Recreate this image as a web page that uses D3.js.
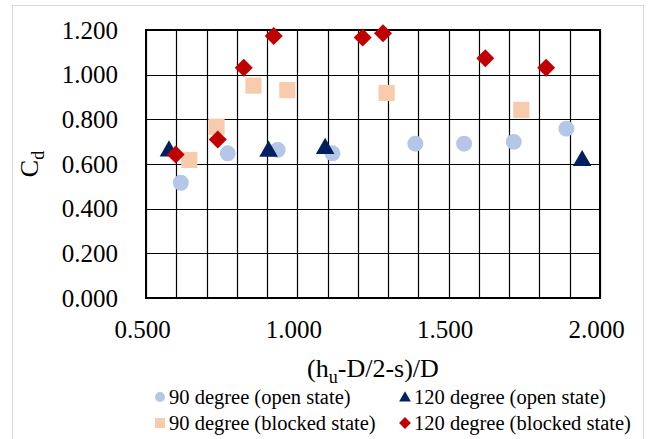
<!DOCTYPE html>
<html>
<head>
<meta charset="utf-8">
<script src="https://cdn.jsdelivr.net/npm/d3@7"></script>
<style>
  html, body { margin: 0; padding: 0; background: #fff; }
  svg { display: block; }
  text { font-family: "Liberation Serif", "Times New Roman", serif; fill: #000; }
</style>
</head>
<body>
<div id="chart"></div>
<script>
// ---- Data ----
const seriesNames = [
  "90 degree (open state)",
  "120 degree (open state)",
  "90 degree (blocked state)",
  "120 degree (blocked state)"
];
const open90X = [0.615, 0.770, 0.935, 1.116, 1.390, 1.551, 1.715, 1.889];
const open90Y = [0.516, 0.648, 0.663, 0.648, 0.691, 0.691, 0.699, 0.758];
const open120X = [0.576, 0.905, 1.092, 1.941];
const open120Y = [0.667, 0.666, 0.678, 0.624];
const blocked90X = [0.643, 0.733, 0.855, 0.967, 1.295, 1.740];
const blocked90Y = [0.618, 0.767, 0.951, 0.931, 0.918, 0.842];
const blocked120X = [0.598, 0.737, 0.823, 0.922, 1.216, 1.283, 1.621, 1.822];
const blocked120Y = [0.643, 0.710, 1.031, 1.173, 1.166, 1.185, 1.073, 1.031];
const xTickValues = [0.5, 1.0, 1.5, 2.0];
const yTickValues = [0.0, 0.2, 0.4, 0.6, 0.8, 1.0, 1.2];
const xDomain = [0.5, 2.0];
const yDomain = [0.0, 1.2];

// ---- Layout ----
const W = 652, H = 439;
const M = { left: 146, top: 30, right: 600, bottom: 298 };

const svg = d3.select("#chart").append("svg").attr("width", W).attr("height", H);

// outer chart border
svg.append("rect").attr("x", 12.5).attr("y", 5.5).attr("width", 631).attr("height", 445)
  .attr("fill", "none").attr("stroke", "#d9d9d9").attr("stroke-width", 1);

const x = d3.scaleLinear().domain(xDomain).range([M.left, M.right]);
const y = d3.scaleLinear().domain(yDomain).range([M.bottom, M.top]);

// gridlines
const grid = svg.append("g");
grid.selectAll("line.v").data(x.ticks(15)).enter().append("line")
  .attr("x1", d => Math.round(x(d)) + 0.5).attr("x2", d => Math.round(x(d)) + 0.5)
  .attr("y1", M.top).attr("y2", M.bottom)
  .attr("stroke", "#000").attr("stroke-width", 1.2);
grid.selectAll("line.h").data(yTickValues).enter().append("line")
  .attr("x1", M.left).attr("x2", M.right)
  .attr("y1", d => Math.round(y(d)) + 0.5).attr("y2", d => Math.round(y(d)) + 0.5)
  .attr("stroke", "#000").attr("stroke-width", 1.2);

// plot border
svg.append("rect").attr("x", M.left).attr("y", M.top)
  .attr("width", M.right - M.left).attr("height", M.bottom - M.top)
  .attr("fill", "none").attr("stroke", "#000").attr("stroke-width", 2);

// axes tick labels
const fmt = d3.format(".3f");
const yAxis = d3.axisLeft(y).tickValues(yTickValues).tickFormat(fmt).tickSize(0).tickPadding(28);
const gy = svg.append("g").attr("transform", `translate(${M.left},0)`).call(yAxis);
gy.select(".domain").remove();
gy.selectAll("text").style("font-family", '"Liberation Serif", "Times New Roman", serif')
  .style("font-size", "25px").attr("fill", "#000").attr("dy", "0.32em");

const xAxis = d3.axisBottom(x).tickValues(xTickValues).tickFormat(fmt).tickSize(0).tickPadding(22);
const gx = svg.append("g").attr("transform", `translate(-4,${M.bottom})`).call(xAxis);
gx.select(".domain").remove();
gx.selectAll("text").style("font-family", '"Liberation Serif", "Times New Roman", serif')
  .style("font-size", "25px").attr("fill", "#000");

// axis titles
const xt = svg.append("text").attr("x", (M.left + M.right) / 2).attr("y", 377)
  .attr("text-anchor", "middle").style("font-size", "26px");
xt.append("tspan").text("(h");
xt.append("tspan").text("u").attr("dy", 6).style("font-size", "18px");
xt.append("tspan").text("-D/2-s)/D").attr("dy", -6);

const yt = svg.append("text").attr("transform", `translate(38,${(M.top + M.bottom) / 2}) rotate(-90)`)
  .attr("text-anchor", "middle").style("font-size", "26px");
yt.append("tspan").text("C");
yt.append("tspan").text("d").attr("dy", 6).style("font-size", "18px");

// markers
const colors = ["#b4c7e7", "#002060", "#f8cbad", "#c00000"];
const shapes = [d3.symbolCircle, d3.symbolTriangle, d3.symbolSquare, d3.symbolDiamond2];
// areas tuned so that visual widths ~16-18px
const sizes = [200, 150, 262, 162];
const legendSizes = [80, 60, 100, 70];
const series = [
  { xs: open90X, ys: open90Y },
  { xs: open120X, ys: open120Y },
  { xs: blocked90X, ys: blocked90Y },
  { xs: blocked120X, ys: blocked120Y }
];

function symbolPath(i, s) {
  if (shapes[i] === d3.symbolDiamond2) {
    // rotated square diamond
    const h = Math.sqrt(s) / 2 * 1.414;
    return `M0,${-h}L${h},0L0,${h}L${-h},0Z`;
  }
  return d3.symbol().type(shapes[i]).size(s)();
}

series.forEach((sr, i) => {
  const pts = sr.xs.map((v, j) => [v, sr.ys[j]]);
  svg.append("g").selectAll("path").data(pts).enter().append("path")
    .attr("d", symbolPath(i, sizes[i]))
    .attr("transform", d => {
      let dy = 0;
      if (i === 1) dy = 2;
      return `translate(${x(d[0])},${y(d[1]) + dy})`;
    })
    .attr("fill", colors[i]);
});

// legend
const legPos = [
  { mx: 160, tx: 169, cy: 397 },
  { mx: 405, tx: 414, cy: 397 },
  { mx: 160, tx: 169, cy: 423 },
  { mx: 405, tx: 414, cy: 423 }
];
const leg = svg.append("g");
seriesNames.forEach((name, i) => {
  const p = legPos[i];
  leg.append("path").attr("d", symbolPath(i, legendSizes[i]))
    .attr("transform", `translate(${p.mx},${p.cy + (i === 1 ? 1 : 0)})`).attr("fill", colors[i]);
  leg.append("text").attr("x", p.tx).attr("y", p.cy + 7)
    .style("font-size", "20.5px").text(name);
});
</script>
</body>
</html>
